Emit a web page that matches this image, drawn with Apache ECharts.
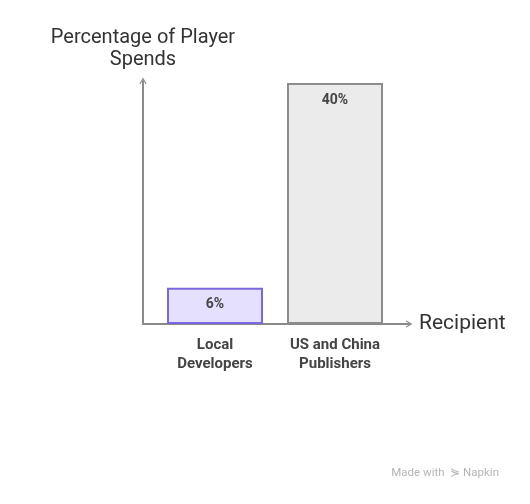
<!DOCTYPE html>
<html>
<head>
<meta charset="utf-8">
<script src="https://cdn.jsdelivr.net/npm/echarts@6/dist/echarts.min.js"></script>
<style>html,body{margin:0;padding:0;background:#fff}#c{width:530px;height:504px}</style>
</head>
<body>
<div id="c"></div>
<script>
const categories = ['Local\nDevelopers', 'US and China\nPublishers'];
const values = [6, 40];
const valueLabels = ['6%', '40%'];
const yTitle = 'Percentage of Player\nSpends';
const xTitle = 'Recipient';

const fills = ['#e5e0fd', '#ebebeb'];
const borders = ['#7b68e0', '#8c8c8c'];
const labelDist = [10, 10];

const arrow = 'path://M5,0 L10,8.6 L9,10 L5,3 L1,10 L0,8.6 Z';
const axisColor = '#8a8a8a';

const chart = echarts.init(document.getElementById('c'));
chart.setOption({
  animation: false,
  textStyle: { fontFamily: 'Roboto' },
  grid: [
    { left: 155, right: 135, top: 83, bottom: 180 },
    { left: 143, right: 121, top: 81, bottom: 180 }
  ],
  xAxis: [
    {
      gridIndex: 0, type: 'category', data: categories,
      axisLine: { show: false }, axisTick: { show: false },
      axisLabel: { margin: 12, fontSize: 15, fontWeight: 'bold', color: '#444', lineHeight: 19, fontFamily: 'Roboto' }
    },
    {
      gridIndex: 1, type: 'value', min: 0, max: 1,
      name: xTitle, nameLocation: 'end', nameGap: 10,
      nameTextStyle: { fontSize: 21, color: '#333', fontFamily: 'Roboto' },
      axisLine: { show: true, lineStyle: { color: axisColor, width: 2 }, symbol: ['none', arrow], symbolSize: [14, 7] },
      axisTick: { show: false }, axisLabel: { show: false }, splitLine: { show: false }
    }
  ],
  yAxis: [
    { gridIndex: 0, type: 'value', min: 0, max: 40, show: false },
    {
      gridIndex: 1, type: 'value', min: 0, max: 1,
      name: yTitle, nameLocation: 'end', nameGap: 10,
      nameTextStyle: { fontSize: 20, color: '#333', lineHeight: 22, align: 'center', fontFamily: 'Roboto' },
      axisLine: { show: true, lineStyle: { color: axisColor, width: 2 }, symbol: ['none', arrow], symbolSize: [14, 7] },
      axisTick: { show: false }, axisLabel: { show: false }, splitLine: { show: false }
    }
  ],
  series: [{
    type: 'bar', xAxisIndex: 0, yAxisIndex: 0, barWidth: 96, z: 1,
    data: values.map((v, i) => ({
      value: v,
      itemStyle: { color: fills[i], borderColor: borders[i], borderWidth: 2 },
      label: { show: true, position: 'insideTop', distance: labelDist[i], formatter: valueLabels[i],
               fontSize: 14, fontWeight: 'bold', color: '#444', fontFamily: 'Roboto' }
    }))
  }],
  title: {
    text: 'Made with  ⋟ Napkin', right: 26, bottom: 20,
    textStyle: { fontSize: 11.5, fontWeight: 'normal', color: '#b5b5b5', fontFamily: 'Roboto' }
  }
});
</script>
</body>
</html>
